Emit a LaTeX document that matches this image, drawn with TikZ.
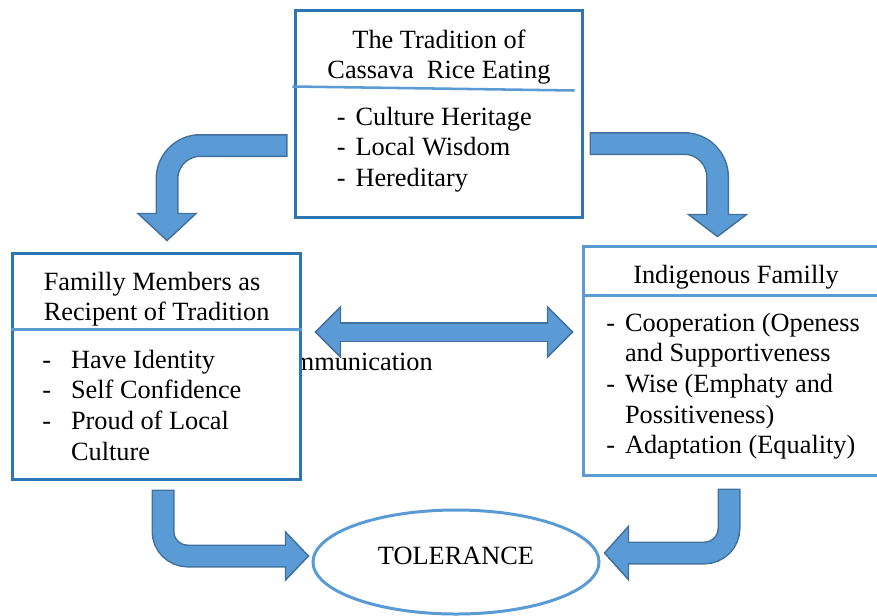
\documentclass[tikz,border=0pt]{standalone}
\usepackage{fontspec}
\setmainfont{Liberation Serif}
\usepackage{tikz}
\usetikzlibrary{shapes,calc}

\definecolor{boxblue}{RGB}{46,117,182}
\definecolor{lineblue}{RGB}{91,155,213}
\definecolor{arrowfill}{RGB}{91,155,213}
\definecolor{arrowline}{RGB}{65,113,156}

\newcommand{\diafont}{\fontsize{19.75}{23}\selectfont}
\newcommand{\bendr}{22pt}
% head of a block arrow: base, tip, half width
\newcommand{\blockhead}[3]{%
  \filldraw[headst] ($(#1)!#3!90:(#2)$) -- (#2) -- ($(#1)!#3!-90:(#2)$) -- cycle;}
% bent block arrow: start, bend, tip, head length, half width
\newcommand{\bentarrow}[5]{%
  \path ($(#3)!#4!(#2)$) coordinate (hb);
  \draw[shaftout] (#1) -- (#2) -- (hb);
  \blockhead{hb}{#3}{#5}
  \draw[shaftin] (#1) -- (#2) -- ($(hb)!2pt!(#3)$);}

\tikzset{
  box/.style={draw=boxblue, line width=2.25pt, fill=white, inner sep=0},
  divider/.style={draw=lineblue, line width=1.9pt},
  txt/.style={inner sep=0, font=\diafont},
  shaftout/.style={draw=arrowline, line width=17.25pt, rounded corners=\bendr},
  shaftin/.style={draw=arrowfill, line width=15pt, rounded corners=\bendr, shorten <=1.2pt},
  headst/.style={fill=arrowfill, draw=arrowline, line width=1.1pt, line join=miter},
}

\begin{document}
\begin{tikzpicture}[x=0.75pt, y=-0.75pt]
\useasboundingbox (0,0) rectangle (877,615);

% Communication label, partly under the box
\node[txt, anchor=base east] (commtext) at (433,370) {Communication};

% Tradition block
\node[box, minimum width=215.25pt, minimum height=155.25pt] (trad) at (438.5,113.5) {};
\draw[divider] ($(trad.north west)+(-1,78)$) -- ($(trad.north east)+(-9,82)$);
\node[txt, anchor=base] (tradhead) at (439,48)
  {\begin{tabular}[t]{@{}c@{}}The Tradition of\\Cassava\ \ Rice Eating\end{tabular}};
\node[txt, anchor=base west] (tradlist) at (336.5,125)
  {\begin{tabular}[t]{@{}l@{\hspace{7.5pt}}l@{}}
  - & Culture Heritage\\ - & Local Wisdom\\ - & Hereditary\end{tabular}};

% Family members block
\node[box, minimum width=216pt, minimum height=169.5pt] (recip) at (156,366) {};
\draw[divider] ($(recip.north west)+(0,78)$) -- ($(recip.north east)+(0,78)$);
\node[txt, anchor=base west] (reciphead) at (43.5,290)
  {\begin{tabular}[t]{@{}l@{}}Familly Members as\\Recipent of Tradition\end{tabular}};
\node[txt, anchor=base west] (reciplist) at (42,368)
  {\begin{tabular}[t]{@{}l@{\hspace{15pt}}l@{}}
  - & Have Identity\\ - & Self Confidence\\ - & Proud of Local\\ & Culture\end{tabular}};

% Indigenous family block
\node[box, draw=lineblue, minimum width=237.75pt, minimum height=171.75pt] (indig) at (741.5,360.5) {};
\draw[divider] ($(indig.north west)+(0,51)$) -- ($(indig.north east)+(0,51)$);
\node[txt, anchor=base west] (indighead) at (633,283) {Indigenous Familly};
\node[txt, anchor=base west] (indiglist) at (606,331)
  {\begin{tabular}[t]{@{}l@{\hspace{7.5pt}}l@{}}
  - & Cooperation (Openess\\ & and Supportiveness\\ - & Wise (Emphaty and\\
    & Possitiveness)\\ - & Adaptation (Equality)\end{tabular}};

% Tolerance
\node[ellipse, draw=lineblue, line width=2.25pt, minimum width=214.5pt, minimum height=78pt,
  inner sep=0, font=\diafont, text height=12.75pt, text depth=9.75pt] (tol) at (456,562) {TOLERANCE};

% Arrows
\renewcommand{\bendr}{25pt}
\coordinate (tlS) at ($(trad.west)+(-6,32)$);
\coordinate (tlT) at ($(recip.north)+(11,-11)$);
\bentarrow{tlS}{tlS -| tlT}{tlT}{20.25pt}{21.75pt}

\coordinate (trS) at ($(trad.east)+(6,30)$);
\coordinate (trT) at ($(indig.north west)+(136,-8)$);
\bentarrow{trS}{trS -| trT}{trT}{16.5pt}{21.75pt}

\renewcommand{\bendr}{18.5pt}
\coordinate (blS) at ($(recip.south)+(7,9)$);
\coordinate (blT) at ($(tol.west)+(-3,-6)$);
\bentarrow{blS}{blS |- blT}{blT}{17.25pt}{18pt}

\coordinate (brS) at ($(indig.south west)+(147.5,12)$);
\coordinate (brT) at ($(tol.east)+(4,-9)$);
\bentarrow{brS}{brS |- brT}{brT}{18pt}{20pt}

% Communication arrow
\coordinate (cL) at ($(recip.east)+(14,-34)$);
\coordinate (cR) at ($(cL -| indig.west)+(-9,0)$);
\path ($(cL)!18.75pt!(cR)$) coordinate (cLb) ($(cR)!18.75pt!(cL)$) coordinate (cRb);
\draw[shaftout, line width=15pt] (cLb) -- (cRb);
\blockhead{cLb}{cL}{18.75pt}
\blockhead{cRb}{cR}{18.75pt}
\draw[shaftin, line width=12.75pt, shorten <=-2pt, shorten >=-2pt] (cLb) -- (cRb);

\end{tikzpicture}
\end{document}
